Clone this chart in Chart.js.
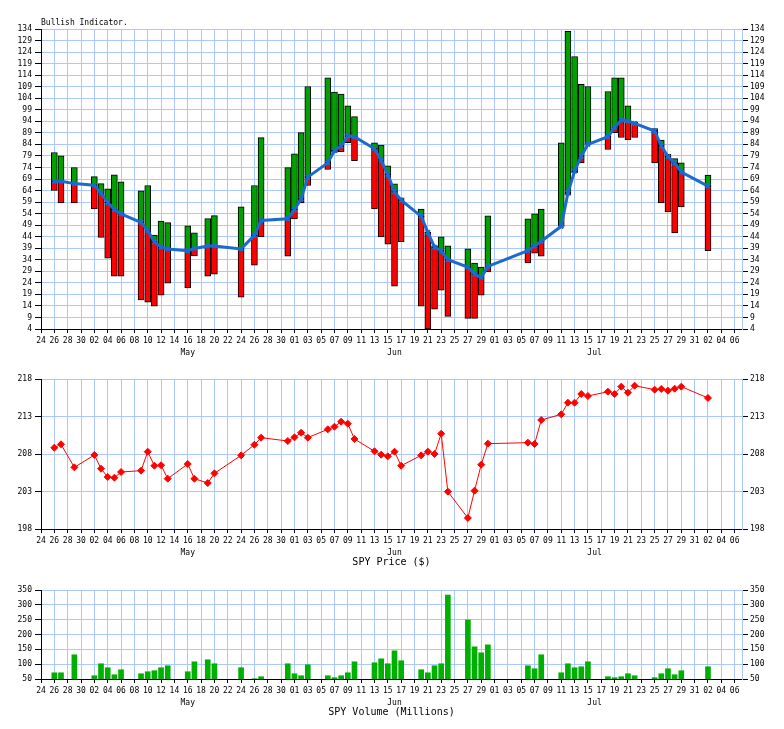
<!DOCTYPE html>
<html>
<head>
<meta charset="utf-8">
<script src="https://cdn.jsdelivr.net/npm/chart.js@4.4.1/dist/chart.umd.min.js"></script>
<style>
  html, body { margin: 0; padding: 0; background: #fff; }
  #wrap { position: relative; width: 784px; height: 729px; }
  canvas { position: absolute; left: 0; }
</style>
</head>
<body>
<div id="wrap">
  <canvas id="c1" width="784" height="365" style="top:0px"></canvas>
  <canvas id="c2" width="784" height="210" style="top:365px"></canvas>
  <canvas id="c3" width="784" height="154" style="top:575px"></canvas>
</div>
<script>
// ---------- DATA ----------
const DATES = ['04-26','04-27','04-29',
  '05-02','05-03','05-04','05-05','05-06','05-09','05-10','05-11','05-12','05-13','05-16','05-17','05-19','05-20','05-24','05-26','05-27','05-31',
  '06-01','06-02','06-03','06-06','06-07','06-08','06-09','06-10','06-13','06-14','06-15','06-16','06-17','06-20','06-21','06-22','06-23','06-24','06-27','06-28','06-29','06-30',
  '07-06','07-07','07-08','07-11','07-12','07-13','07-14','07-15','07-18','07-19','07-20','07-21','07-22','07-25','07-26','07-27','07-28','07-29',
  '08-02'];

const BULL_HIGH = [80.5,79,74,
  70,67,64.7,70.8,67.8,63.9,66.2,44.7,50.8,50.1,48.7,45.7,51.8,53.1,56.9,66.2,86.9,73.9,
  79.9,89.1,109.1,112.8,106.7,105.8,100.7,96,84.7,83.7,74.7,66.9,60.8,56,45.9,40,43.9,40,38.7,32.6,30.8,53,
  51.7,53.9,56,84.7,133,122.1,110,109.1,106.9,112.8,112.8,100.7,93.7,90.8,85.9,79.7,77.8,76,
  70.7];
const BULL_MID = [68,68,67,
  66.3,62.7,58.9,55.7,53.9,50.2,46.7,41.7,39.5,38.7,37.9,38.9,40,40,38.7,44.6,51,51.8,
  55.7,60.4,69.8,76,81.3,83.3,87.6,87.3,82.1,77,71,63.4,59.8,52.8,45.9,39.5,37.8,34,30.8,27.8,26.3,31.1,
  37.9,40,42,48.5,63,72.4,78.9,84,87.3,91.3,94.6,94.1,93.1,89.8,83.3,78.7,76,72,
  65.9];
const BULL_LOW = [64,58.6,58.6,
  56,43.7,34.7,26.9,26.9,16.6,15.6,13.9,18.7,23.9,21.8,35.7,26.9,27.8,17.8,31.7,43.9,35.6,
  51.7,58.6,66.2,73.1,80.5,80.8,84.7,76.9,56,43.9,40.8,22.6,41.8,13.9,4,12.6,20.8,9.5,8.6,8.6,18.7,28.7,
  32.6,36.9,35.6,48.5,62,71.7,76,84,81.8,89.1,87,86,87,76,58.6,54.7,45.6,56.9,
  37.9];

const SPY_PRICE = [208.84,209.29,206.22,
  207.87,206.04,204.93,204.84,205.6,205.78,208.31,206.44,206.5,204.71,206.67,204.71,204.13,205.42,207.82,209.24,210.18,209.73,
  210.22,210.84,210.18,211.29,211.64,212.31,212.04,210.0,208.36,207.91,207.69,208.31,206.44,207.82,208.31,208.0,210.71,202.98,199.47,203.11,206.58,209.38,
  209.51,209.33,212.53,213.29,214.84,214.84,216.0,215.73,216.31,216.0,216.98,216.18,217.11,216.58,216.67,216.44,216.71,216.98,
  215.47];

const SPY_VOLUME = [71,71,131.6,
  61,101.4,88,64.4,81.2,67.8,74.5,77.9,88,94.7,74.5,108,114.8,101.4,88,51,57.7,101.4,
  67.8,61,98,61,54.4,61,71,108,104.7,118,101.4,145,111.5,81.2,71,94.7,101.4,333,249,158.5,138.3,165.2,
  94.7,84.6,131.6,71,101.4,88,91.3,108,57.7,54.4,57.7,67.8,61,54.4,67.8,84.6,64.4,77.9,
  91.3];

const X_TICK_LABELS = ['24','26','28','30','02','04','06','08','10','12','14','16','18','20','22','24','26','28','30',
  '01','03','05','07','09','11','13','15','17','19','21','23','25','27','29',
  '01','03','05','07','09','11','13','15','17','19','21','23','25','27','29','31',
  '02','04','06'];
const MONTH_NAMES = ['May','Jun','Jul'];
const MONTH_LABEL_DATES = ['05-16','06-16','07-16'];

const BULL_TICKS = [4,9,14,19,24,29,34,39,44,49,54,59,64,69,74,79,84,89,94,99,104,109,114,119,124,129,134];
const PRICE_TICKS = [198,203,208,213,218];
const VOLUME_TICKS = [50,100,150,200,250,300,350];

// ---------- HELPERS ----------
const dayOf = s => { const [m, d] = s.split('-').map(Number); return (Date.UTC(2016, m - 1, d) - Date.UTC(2016, 3, 24)) / 86400000; };
const X = DATES.map(dayOf);
const X_TICK_DAYS = X_TICK_LABELS.map((_, i) => i * 2);

const GRID = '#aac8ff';
const MONO = 'DejaVu Sans Mono';
const TICK_FONT = { family: MONO, size: 8 };

function xScale(h) {
  return {
    type: 'linear', min: 0, max: 105.1, offset: false,
    afterBuildTicks: s => { s.ticks = X_TICK_DAYS.map(v => ({ value: v })); },
    ticks: { autoSkip: false, maxRotation: 0, minRotation: 0, color: '#000', font: TICK_FONT, padding: 3,
      callback: (v, i) => X_TICK_LABELS[i] },
    grid: { offset: false, color: c => (c.tick && c.tick.value === 0) ? 'rgba(0,0,0,0)' : GRID, lineWidth: 1,
      tickColor: '#000', tickLength: 4, drawTicks: true },
    border: { color: '#000', width: 1 },
    afterFit: s => { s.height = h; }
  };
}
function yScales(min, max, ticks) {
  return {
    y: {
      position: 'left', min, max,
      afterBuildTicks: s => { s.ticks = ticks.map(v => ({ value: v })); },
      ticks: { autoSkip: false, color: '#000', font: TICK_FONT, padding: 3, callback: v => String(v) },
      grid: { color: c => (c.tick && c.tick.value === min) ? 'rgba(0,0,0,0)' : GRID, tickColor: '#000', tickLength: 6 },
      border: { color: '#000', width: 1 },
      afterFit: s => { s.width = 41; }
    },
    y2: {
      position: 'right', min, max,
      afterBuildTicks: s => { s.ticks = ticks.map(v => ({ value: v })); },
      ticks: { autoSkip: false, color: '#000', font: TICK_FONT, padding: 2, callback: v => String(v) },
      grid: { drawOnChartArea: false, tickColor: '#000', tickLength: 6 },
      border: { color: GRID, width: 1 },
      afterFit: s => { s.width = 42; }
    }
  };
}
function textPlugin(opts) {
  return {
    id: 'txt',
    afterDraw(chart) {
      const ctx = chart.ctx, a = chart.chartArea, xs = chart.scales.x;
      ctx.save();
      ctx.fillStyle = '#000';
      ctx.font = '8px "' + MONO + '"';
      ctx.textAlign = 'center';
      ctx.textBaseline = 'middle';
      MONTH_NAMES.forEach((m, i) => ctx.fillText(m, xs.getPixelForValue(dayOf(MONTH_LABEL_DATES[i])), a.bottom + 24));
      if (opts.axisTitle) {
        ctx.font = '10px "' + MONO + '"';
        ctx.fillText(opts.axisTitle, (a.left + a.right) / 2, a.bottom + 33);
      }
      if (opts.title) {
        ctx.font = '8px "' + MONO + '"';
        ctx.textAlign = 'left';
        ctx.fillText(opts.title, a.left, a.top - 6);
      }
      ctx.restore();
    }
  };
}
const common = {
  responsive: false, animation: false, devicePixelRatio: 1,
  plugins: { legend: { display: false }, tooltip: { enabled: false } }
};

// ---------- CHART 1: Bullish Indicator ----------
new Chart(document.getElementById('c1'), {
  type: 'bar',
  data: {
    datasets: [
      { type: 'line', order: 0, data: X.map((x, i) => ({ x, y: BULL_MID[i] })),
        borderColor: '#1a6ad0', borderWidth: 3, tension: 0,
        pointStyle: 'crossRot', pointRadius: 3, pointBorderWidth: 2, pointBorderColor: '#1a6ad0', pointBackgroundColor: '#1a6ad0' },
      { order: 1, grouped: false, data: X.map((x, i) => ({ x, y: [BULL_MID[i], Math.max(BULL_HIGH[i], BULL_MID[i])] })),
        backgroundColor: '#00a000', borderColor: '#000', borderWidth: 1, borderSkipped: false, barThickness: 6 },
      { order: 2, grouped: false, data: X.map((x, i) => ({ x, y: [BULL_LOW[i], BULL_MID[i]] })),
        backgroundColor: '#ff0000', borderColor: '#000', borderWidth: 1, borderSkipped: false, barThickness: 6 }
    ]
  },
  options: Object.assign({}, common, {
    layout: { padding: { top: 29, left: 0, right: 0, bottom: 0 } },
    scales: Object.assign({ x: xScale(36) }, yScales(4, 134, BULL_TICKS))
  }),
  plugins: [textPlugin({ title: 'Bullish Indicator.' })]
});

// ---------- CHART 2: SPY Price ----------
new Chart(document.getElementById('c2'), {
  type: 'line',
  data: {
    datasets: [
      { data: X.map((x, i) => ({ x, y: SPY_PRICE[i] })),
        borderColor: '#ff0000', borderWidth: 1, tension: 0,
        pointStyle: 'rectRot', pointRadius: 3.5, pointBackgroundColor: '#ff0000', pointBorderColor: '#ff0000', pointBorderWidth: 1 }
    ]
  },
  options: Object.assign({}, common, {
    layout: { padding: { top: 14, left: 0, right: 0, bottom: 0 } },
    scales: Object.assign({ x: xScale(46) }, yScales(198, 218, PRICE_TICKS))
  }),
  plugins: [textPlugin({ axisTitle: 'SPY Price ($)' })]
});

// ---------- CHART 3: SPY Volume ----------
new Chart(document.getElementById('c3'), {
  type: 'bar',
  data: {
    datasets: [
      { data: X.map((x, i) => ({ x, y: SPY_VOLUME[i] })),
        backgroundColor: '#00b000', borderWidth: 0, barThickness: 5 }
    ]
  },
  options: Object.assign({}, common, {
    layout: { padding: { top: 15, left: 0, right: 0, bottom: 0 } },
    scales: Object.assign({ x: xScale(50) }, yScales(50, 350, VOLUME_TICKS))
  }),
  plugins: [textPlugin({ axisTitle: 'SPY Volume (Millions)' })]
});
</script>
</body>
</html>
